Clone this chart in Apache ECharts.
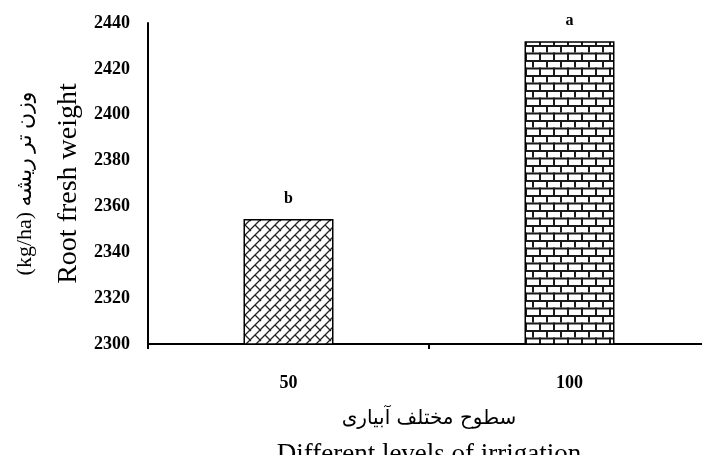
<!DOCTYPE html>
<html><head><meta charset="utf-8">
<script src="https://cdn.jsdelivr.net/npm/echarts@6/dist/echarts.min.js"></script>
<style>html,body{margin:0;padding:0;background:#fff}#c{width:702px;height:455px}</style>
</head><body><div id="c"></div>
<script>
const categories = ['50', '100'];
const values = [2354.5, 2432];
const letters = ['b', 'a'];
const yTicks = {min: 2300, max: 2440, interval: 20};

function diagBrick() {
  const s = 10, c = document.createElement('canvas');
  c.width = s; c.height = s;
  const g = c.getContext('2d');
  g.fillStyle = '#fff'; g.fillRect(0, 0, s, s);
  g.strokeStyle = '#222'; g.lineWidth = 1.3;
  g.beginPath();
  g.moveTo(-1, s + 1); g.lineTo(s + 1, -1);
  g.moveTo(s / 2, s / 2); g.lineTo(s, s);
  g.moveTo(0, 0); g.lineTo(1, 1);
  g.stroke();
  return c;
}
function hBrick() {
  const w = 14, h = 15, c = document.createElement('canvas');
  c.width = w; c.height = h;
  const g = c.getContext('2d');
  g.fillStyle = '#fff'; g.fillRect(0, 0, w, h);
  g.fillStyle = '#1a1a1a';
  g.fillRect(0, 0, w, 2); g.fillRect(0, 7.5, w, 2);
  g.fillRect(0, 0, 2, 7.5); g.fillRect(7, 7.5, 2, 7.5);
  return c;
}
const patterns = [diagBrick(), hBrick()];

const chart = echarts.init(document.getElementById('c'), null, {renderer: 'canvas'});
const serif = "'Liberation Serif', 'DejaVu Serif', serif";
chart.setOption({
  animation: false,
  grid: {left: 148, top: 23, width: 562, height: 321, outerBoundsMode: 'none', containLabel: false},
  xAxis: {
    type: 'category', data: categories,
    axisLine: {lineStyle: {color: '#000', width: 2}},
    axisTick: {show: true, length: 5, lineStyle: {color: '#000', width: 2}},
    axisLabel: {color: '#000', fontFamily: serif, fontWeight: 'bold', fontSize: 18, margin: 30},
    name: '{fa|سطوح مختلف آبیاری}\n{en|Different levels of irrigation}',
    nameLocation: 'middle', nameGap: 58, nameMoveOverlap: false,
    nameTextStyle: {
      color: '#000', lineHeight: 34,
      rich: {
        fa: {fontFamily: "'DejaVu Sans', serif", fontSize: 20, color: '#000', lineHeight: 33},
        en: {fontFamily: serif, fontSize: 27, color: '#000', lineHeight: 40}
      }
    }
  },
  yAxis: {
    type: 'value', min: yTicks.min, max: yTicks.max, interval: yTicks.interval,
    splitLine: {show: false},
    axisLine: {show: true, lineStyle: {color: '#000', width: 2}},
    axisTick: {show: false},
    axisLabel: {color: '#000', fontFamily: serif, fontWeight: 'bold', fontSize: 18, margin: 18,
      formatter: v => String(v)},
    name: '{fa|(kg/ha) وزن تر ریشه}\n{en|Root fresh weight}',
    nameLocation: 'middle', nameRotate: 90, nameGap: 58, nameMoveOverlap: false,
    nameTextStyle: {
      color: '#000', lineHeight: 43,
      rich: {
        fa: {fontFamily: serif + ", 'DejaVu Sans'", fontSize: 22, color: '#000', lineHeight: 43},
        en: {fontFamily: serif, fontSize: 28, color: '#000', lineHeight: 43}
      }
    }
  },
  series: [{
    type: 'bar', barWidth: 90,
    data: values.map((v, i) => ({
      value: v,
      itemStyle: {color: {image: patterns[i], repeat: 'repeat'}, borderColor: '#000', borderWidth: 1.5},
      label: {show: true, position: 'top', distance: 12, formatter: letters[i],
        color: '#000', fontFamily: serif, fontWeight: 'bold', fontSize: 16}
    }))
  }]
});
</script></body></html>
